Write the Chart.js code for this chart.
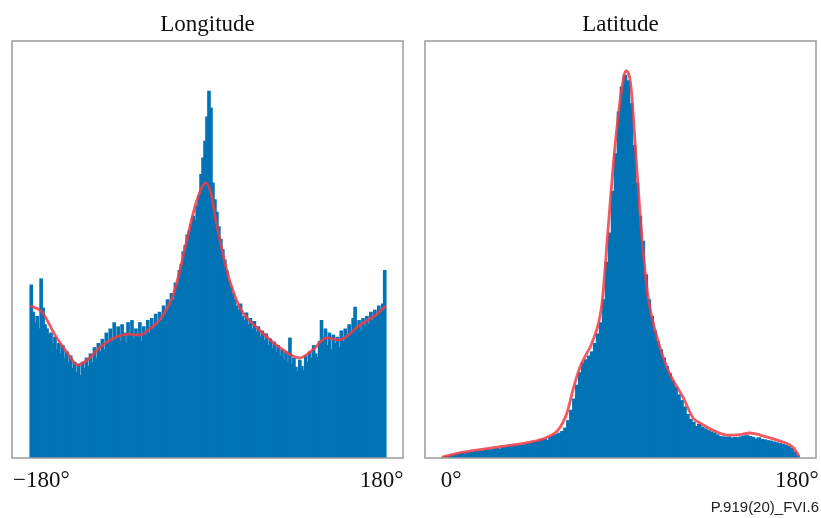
<!DOCTYPE html>
<html>
<head>
<meta charset="utf-8">
<script src="https://cdn.jsdelivr.net/npm/chart.js@4.4.1/dist/chart.umd.min.js"></script>
<style>
    body { margin: 0; background: #fff; width: 821px; height: 518px; position: relative; overflow: hidden; }
    canvas { position: absolute; top: 0; }
    #nota { position: absolute; right: 2px; top: 498px; font: 15px "Liberation Sans", Arial, sans-serif; color: #222; }
</style>
</head>
<body>
<canvas id="graficoLon" width="410" height="518" style="left:0"></canvas>
<canvas id="graficoLat" width="411" height="518" style="left:410px"></canvas>
<div id="nota">P.919(20)_FVI.6</div>
<script>
// Histograma de longitud: 180 clases de 2° desde -180°
const lonInicio = -180;
const lonPaso = 2;
const lonValores = [
    41.5, 35, 32.5, 34, 31,      43, 36, 32, 31, 29.5,
    30, 27.5, 29, 26, 27.5,      25, 27, 24, 25.5, 23,
    24.5, 21.5, 23, 20.5, 22.5,  19.8, 23, 21.5, 24, 22,
    25, 23, 26.5, 24, 27.5,      25.5, 28.5, 26, 30, 27.5,
    31, 28, 32.5, 29, 31.5,      28, 32, 30, 27.5, 32.5,
    29.5, 33, 28.5, 31, 29,      32.5, 28, 31.5, 29.5, 33,
    30, 33.5, 31, 34.5, 32,      35, 33, 36.5, 34.5, 38,
    36.5, 39.5, 38, 42, 41.5,    45, 46.5, 49.5, 51, 53.5,
    54.5, 56, 58, 57, 60.5,      63, 68, 72, 76, 81.8,
    88, 84, 66, 62, 59,          55.5, 52.5, 50, 47.5, 45,
    42.5, 41, 39.5, 38, 36.5,    35.5, 37, 34, 33, 34.8,
    32, 33.5, 31, 32.8, 30.2,    31.5, 29, 30.5, 28.2, 29.8,
    27, 28.6, 26.3, 27.8, 25.5,  27, 24.5, 26, 23.5, 25.5,
    23, 28.8, 22.5, 24, 21.8,    20.8, 23.5, 22, 21, 24.5,
    23, 25.5, 24, 27, 25,        24.2, 28, 33, 29, 31,
    27, 30, 26, 29.5, 27.5,      29, 26.5, 30.5, 28, 31,
    29.5, 32, 30, 33.5, 36.2,    31, 33, 30.5, 33.5, 31.5,
    34, 32, 35, 33, 35.5,        34, 36.5, 35, 37, 45
];
// Curva de densidad (KDE) de longitud
const lonKdeX = [-180, -168, -155, -143, -132, -120, -110, -93, -80, -69, -58, -49, -36, -29, -22, -12, -2, 3, 8, 19, 32, 42, 52, 72, 93, 106, 120, 133, 154, 170, 180];
const lonKdeY = [36.5, 35, 29.5, 25.4, 22.3, 24, 26.4, 29, 29.7, 29.5, 31.2, 33.1, 38.6, 44.4, 51.6, 61.2, 66, 63.5, 57, 45, 36.2, 33, 30.7, 26.6, 24, 25.9, 28.8, 28.3, 31.9, 34.3, 36.5];
const lonTicks = [-180, 180];
const lonTextos = ['\u2212180°', '180°'];

// Histograma de latitud: 120 clases de 1.5° desde 0°
const latInicio = 0;
const latPaso = 1.5;
const latValores = [
    0.2, 0.4, 0.5, 0.7, 0.8, 1.0, 1.1, 1.2, 1.3, 1.4,
    1.5, 1.6, 1.7, 1.7, 1.9, 2.0, 2.0, 2.2, 2.3, 2.2,
    2.5, 2.6, 2.7, 2.8, 2.9, 3.0, 3.1, 3.2, 3.4, 3.5,
    3.8, 3.9, 4.1, 4.4, 4.5, 4.3, 5.0, 5.4, 5.7, 6.0,
    6.4, 7.2, 9.0, 11.5, 14.2, 17.5, 20.5, 22.8, 23.6, 24.5,
    25.5, 27.5, 29.8, 32.5, 38, 47, 54, 64, 73, 83,
    89, 91.8, 90.5, 85, 75, 66, 58, 52, 44, 38,
    34, 30.5, 28, 26, 24, 22, 20.3, 18.5, 17, 15.2,
    13.8, 12.3, 10.5, 9.3, 8.6, 7.6, 8.1, 7.4, 7.0, 6.6,
    6.3, 6.0, 5.6, 5.2, 5.1, 5.0, 5.1, 4.8, 5.0, 4.9,
    5.1, 5.3, 5.4, 5.2, 5.0, 4.6, 4.9, 4.5, 4.4, 4.2,
    4.1, 3.9, 3.7, 3.5, 3.3, 3.1, 2.8, 2.3, 1.5, 0.6
];
// Curva de densidad (KDE) de latitud
const latKdeX = [0, 10.6, 27.7, 44.4, 53, 58.5, 63, 66, 69.6, 73.1, 75.6, 80.7, 83.7, 87.2, 90.8, 92.8, 95.3, 98, 100.9, 103.9, 107.4, 114, 121.5, 126.6, 130.1, 138.7, 143.7, 150, 155.3, 160.4, 172, 177, 180];
const latKdeY = [0.2, 1.4, 2.6, 3.8, 5, 6.7, 10.8, 16.3, 21.8, 25.2, 27.6, 37.2, 54.7, 74.6, 89, 92.8, 89, 71, 52.3, 38.6, 30.7, 21.1, 14.6, 9.6, 8.4, 6.2, 5.5, 5.6, 6, 5.5, 3.8, 2.6, 0.5];
const latTicks = [0, 180];
const latTextos = ['0°', '180°'];

const AZUL = '#0274b5';
const ROJO = 'rgba(240, 60, 72, 0.85)';

// marco gris, título y etiquetas de los extremos del eje
function marco(panel) {
    return {
        id: 'marco',
        afterDatasetsDraw(chart) {
            const ctx = chart.ctx;
            const a = chart.chartArea;
            const x = chart.scales.x;
            ctx.save();
            ctx.strokeStyle = '#9b9b9b';
            ctx.lineWidth = 1.5;
            ctx.strokeRect(a.left, a.top, a.right - a.left, a.bottom - a.top);
            ctx.fillStyle = '#111';
            ctx.textAlign = 'center';
            ctx.textBaseline = 'alphabetic';
            ctx.font = '23px "Liberation Serif", "Times New Roman", serif';
            ctx.fillText(panel.titulo, (a.left + a.right) / 2, 31);
            panel.ticks.forEach(function(v, i) {
                ctx.fillText(panel.textos[i], x.getPixelForValue(v) + panel.desplaza[i], 487);
            });
            ctx.restore();
        }
    };
}

function histograma(id, inicio, paso, valores, kdeX, kdeY, xmin, xmax, grosor, padding, panel) {
    const barras = valores.map((v, i) => ({ x: inicio + paso * (i + 0.5), y: v }));
    const curva = kdeX.map((v, i) => ({ x: v, y: kdeY[i] }));
    return new Chart(document.getElementById(id), {
        type: 'bar',
        data: {
            datasets: [{
                type: 'line',
                data: curva,
                borderColor: ROJO,
                borderWidth: 2.8,
                pointRadius: 0,
                cubicInterpolationMode: 'monotone',
                order: 0
            }, {
                type: 'bar',
                data: barras,
                backgroundColor: AZUL,
                borderWidth: 0,
                barThickness: grosor,   // algo más ancho que la clase para que no queden rendijas
                order: 1
            }]
        },
        options: {
            responsive: false,
            animation: false,
            layout: { padding: padding },
            plugins: {
                legend: { display: false },
                tooltip: { enabled: false }
            },
            scales: {
                x: { type: 'linear', min: xmin, max: xmax, offset: false, display: false },
                y: { min: 0, max: 100, display: false }
            }
        },
        plugins: [marco(panel)]
    });
}

histograma('graficoLon', lonInicio, lonPaso, lonValores, lonKdeX, lonKdeY, -198.5, 197.5, 3,
    { left: 12, right: 7, top: 41, bottom: 60 },
    { titulo: 'Longitude', ticks: lonTicks, textos: lonTextos, desplaza: [11, -4] });

histograma('graficoLat', latInicio, latPaso, latValores, latKdeX, latKdeY, -8.6, 188.6, 4,
    { left: 15, right: 5, top: 41, bottom: 60 },
    { titulo: 'Latitude', ticks: latTicks, textos: latTextos, desplaza: [9, -2] });
</script>
</body>
</html>
